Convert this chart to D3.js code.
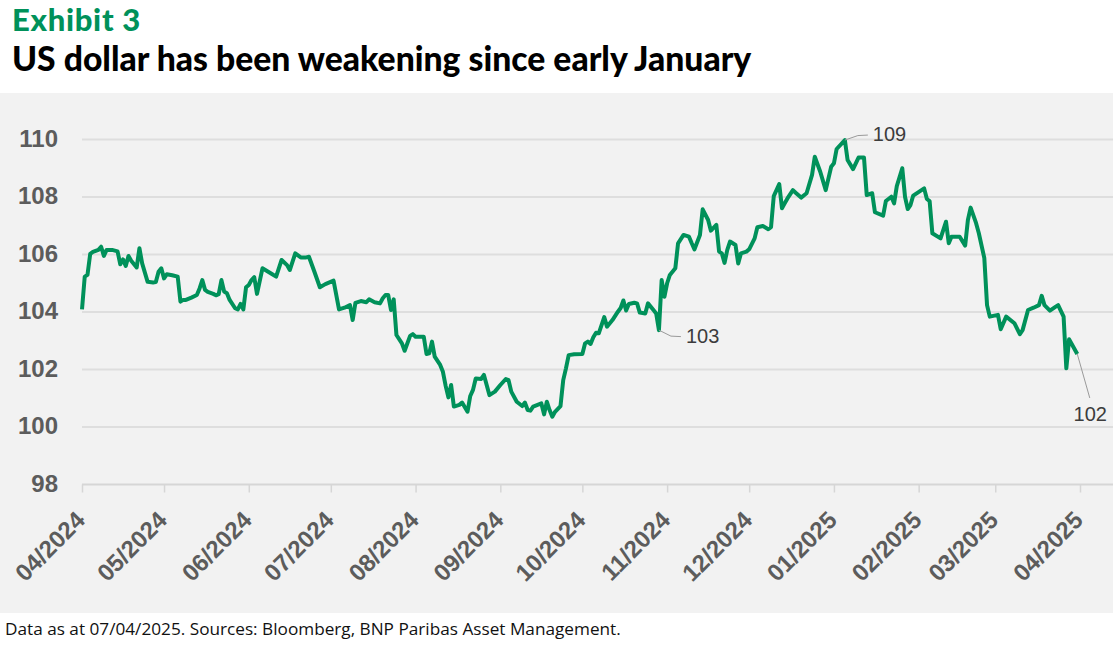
<!DOCTYPE html>
<html lang="en">
<head>
<meta charset="UTF-8">
<title>US dollar</title>
<style>
  body { margin: 0; background: #fff; }
  svg { display: block; }
</style>
</head>
<body>
<script src="https://cdnjs.cloudflare.com/ajax/libs/d3/7.8.5/d3.min.js"></script>
<script>
'use strict';

// DXY
const dates = [
  "2024-04-01","2024-04-02","2024-04-03","2024-04-04","2024-04-05","2024-04-07","2024-04-08","2024-04-09","2024-04-10","2024-04-12",
  "2024-04-14","2024-04-15","2024-04-16","2024-04-17","2024-04-18","2024-04-19","2024-04-21","2024-04-22","2024-04-23","2024-04-25",
  "2024-04-27","2024-04-28","2024-04-29","2024-04-30","2024-05-01","2024-05-02","2024-05-04","2024-05-06","2024-05-07","2024-05-08",
  "2024-05-09","2024-05-11","2024-05-13","2024-05-14","2024-05-15","2024-05-16","2024-05-17","2024-05-19","2024-05-20","2024-05-21",
  "2024-05-22","2024-05-23","2024-05-24","2024-05-25","2024-05-27","2024-05-28","2024-05-29","2024-05-30","2024-05-31","2024-06-01",
  "2024-06-02","2024-06-03","2024-06-04","2024-06-06","2024-06-09","2024-06-11","2024-06-13","2024-06-15","2024-06-16","2024-06-18",
  "2024-06-20","2024-06-22","2024-06-23","2024-06-25","2024-06-27","2024-06-29","2024-07-02","2024-07-04","2024-07-06","2024-07-08",
  "2024-07-09","2024-07-10","2024-07-12","2024-07-14","2024-07-15","2024-07-17","2024-07-19","2024-07-20","2024-07-21","2024-07-22",
  "2024-07-23","2024-07-24","2024-07-25","2024-07-27","2024-07-28","2024-07-30","2024-07-31","2024-08-01","2024-08-04","2024-08-05",
  "2024-08-06","2024-08-07","2024-08-08","2024-08-10","2024-08-11","2024-08-12","2024-08-13","2024-08-14","2024-08-15","2024-08-17",
  "2024-08-18","2024-08-20","2024-08-21","2024-08-22","2024-08-23","2024-08-25","2024-08-26","2024-08-28","2024-08-30","2024-09-01",
  "2024-09-03","2024-09-04","2024-09-05","2024-09-07","2024-09-09","2024-09-10","2024-09-11","2024-09-12","2024-09-13","2024-09-16",
  "2024-09-17","2024-09-18","2024-09-19","2024-09-20","2024-09-21","2024-09-23","2024-09-24","2024-09-25","2024-09-26","2024-09-28",
  "2024-10-01","2024-10-02","2024-10-03","2024-10-04","2024-10-05","2024-10-06","2024-10-07","2024-10-09","2024-10-10","2024-10-12",
  "2024-10-14","2024-10-15","2024-10-16","2024-10-17","2024-10-18","2024-10-20","2024-10-21","2024-10-22","2024-10-24","2024-10-25",
  "2024-10-27","2024-10-28","2024-10-29","2024-10-30","2024-10-31","2024-11-01","2024-11-02","2024-11-04","2024-11-05","2024-11-07",
  "2024-11-09","2024-11-10","2024-11-11","2024-11-13","2024-11-14","2024-11-16","2024-11-17","2024-11-19","2024-11-20","2024-11-21",
  "2024-11-22","2024-11-23","2024-11-24","2024-11-26","2024-11-27","2024-11-28","2024-11-30","2024-12-01","2024-12-03","2024-12-04",
  "2024-12-06","2024-12-08","2024-12-09","2024-12-10","2024-12-12","2024-12-13","2024-12-14","2024-12-15","2024-12-17","2024-12-18",
  "2024-12-20","2024-12-22","2024-12-24","2024-12-25","2024-12-27","2024-12-29","2024-12-31","2025-01-01","2025-01-02","2025-01-05",
  "2025-01-06","2025-01-08","2025-01-10","2025-01-12","2025-01-13","2025-01-15","2025-01-16","2025-01-19","2025-01-20","2025-01-22",
  "2025-01-23","2025-01-24","2025-01-26","2025-01-27","2025-01-28","2025-01-29","2025-01-30","2025-02-03","2025-02-04","2025-02-05",
  "2025-02-06","2025-02-09","2025-02-11","2025-02-12","2025-02-13","2025-02-16","2025-02-18","2025-02-19","2025-02-20","2025-02-22",
  "2025-02-23","2025-02-25","2025-02-26","2025-02-27","2025-03-02","2025-03-03","2025-03-05","2025-03-08","2025-03-10","2025-03-11",
  "2025-03-13","2025-03-15","2025-03-17","2025-03-18","2025-03-19","2025-03-21","2025-03-23","2025-03-24","2025-03-26","2025-03-27",
  "2025-03-28","2025-03-31"
];
const dxy = [
  104.09,105.23,105.29,106.02,106.09,106.16,106.27,105.95,106.16,106.16,
  106.11,105.66,105.83,105.60,105.95,105.78,105.55,106.22,105.69,105.05,
  105.03,105.04,105.40,105.52,105.17,105.31,105.28,105.23,104.36,104.42,
  104.42,104.50,104.59,104.82,105.11,104.77,104.70,104.63,104.58,104.62,
  105.11,104.71,104.65,104.42,104.13,104.09,104.28,104.09,104.86,104.94,
  105.11,105.21,104.63,105.52,105.35,105.23,105.81,105.63,105.46,106.04,
  105.90,105.90,105.92,105.40,104.86,104.97,105.09,104.09,104.15,104.24,
  103.72,104.32,104.38,104.34,104.44,104.34,104.30,104.48,104.59,104.59,
  104.07,104.44,103.20,102.91,102.65,103.17,103.23,103.14,103.14,102.54,
  102.56,102.97,102.45,102.16,101.92,101.43,101.03,101.46,100.71,100.77,
  100.85,100.53,101.08,101.29,101.69,101.67,101.81,101.11,101.23,101.46,
  101.67,101.63,101.23,100.88,100.73,100.85,100.59,100.57,100.71,100.82,
  100.44,100.88,100.59,100.36,100.53,100.73,101.63,102.04,102.50,102.53,
  102.54,102.91,102.97,102.89,103.12,103.28,103.26,103.82,103.49,103.72,
  104.01,104.14,104.40,104.05,104.28,104.32,104.30,103.98,103.95,104.30,
  104.07,103.95,103.37,105.11,104.53,105.00,105.29,105.52,106.39,106.68,
  106.62,106.39,106.18,106.68,107.57,107.20,106.83,107.03,106.10,106.04,
  105.71,106.16,106.45,106.33,105.69,106.04,106.10,106.18,106.56,106.95,
  106.99,106.88,106.95,108.03,108.45,107.61,107.78,107.95,108.24,108.15,
  107.98,108.13,108.77,109.40,108.88,108.24,109.05,109.17,109.67,109.98,
  109.29,108.97,109.37,109.37,108.07,108.13,107.47,107.35,107.86,108.01,
  107.78,108.38,109.00,108.01,107.58,107.72,108.05,108.30,107.93,107.86,
  106.74,106.56,107.14,106.39,106.62,106.62,106.31,107.20,107.63,107.09,
  106.74,105.88,104.24,103.84,103.90,103.40,103.84,103.61,103.23,103.37,
  104.07,104.15,104.24,104.56,104.24,104.05,104.18,104.24,103.84,102.04,
  103.05,102.54
];

const yTicks = [98, 100, 102, 104, 106, 108, 110];
const xStart = "2024-04-01", xEnd = "2025-04-01";
const callouts = [
  { date: "2024-10-29", label: "103" },
  { date: "2025-01-05", label: "109" },
  { date: "2025-03-31", label: "102" }
];

const W = 1113, H = 645;
const green = "#00915a";
const parse = d3.timeParse("%Y-%m-%d");
const series = dates.map((d, i) => ({ date: parse(d), value: dxy[i] }));

const svg = d3.select("body").append("svg")
  .attr("width", W)
  .attr("height", H);

// titles
svg.append("text")
  .attr("x", 12).attr("y", 31)
  .style("font-family", "Lato, 'DejaVu Sans', sans-serif")
  .style("font-weight", 900)
  .style("font-size", "31px")
  .style("letter-spacing", "0.7px")
  .style("fill", green)
  .text("Exhibit 3");

svg.append("text")
  .attr("x", 12).attr("y", 71)
  .style("font-family", "Lato, 'DejaVu Sans', sans-serif")
  .style("font-weight", 900)
  .style("font-size", "33.7px")
  .style("fill", "#000")
  .text("US dollar has been weakening since early January");

// grey panel
svg.append("rect")
  .attr("x", 0).attr("y", 93)
  .attr("width", W).attr("height", 520)
  .style("fill", "#f2f2f2");

const x = d3.scaleTime()
  .domain([parse(xStart), parse(xEnd)])
  .range([82, 1080]);

const y = d3.scaleLinear()
  .domain([98, 110])
  .range([484.5, 139.5]);

// gridlines
svg.append("g")
  .selectAll("line")
  .data(yTicks.slice(1))
  .join("line")
    .attr("x1", 82).attr("x2", W)
    .attr("y1", d => y(d)).attr("y2", d => y(d))
    .style("stroke", "#dedede")
    .style("stroke-width", 2);

// y axis labels
const yAxis = svg.append("g")
  .attr("transform", "translate(58,0)")
  .call(d3.axisLeft(y).tickValues(yTicks).tickSize(0).tickPadding(0));
yAxis.select(".domain").remove();
yAxis.selectAll("text")
  .attr("dy", "0.28em")
  .style("font-family", "'Liberation Sans', Arial, sans-serif")
  .style("font-weight", "bold")
  .style("font-size", "24px")
  .style("fill", "#5c5c5c");

// x axis
const months = d3.timeMonth.range(parse(xStart), d3.timeDay.offset(parse(xEnd), 1));
const xAxis = svg.append("g")
  .attr("transform", `translate(0,${y(98)})`)
  .call(d3.axisBottom(x).tickValues(months).tickFormat(d3.timeFormat("%m/%Y"))
    .tickSizeOuter(0).tickSizeInner(8));
xAxis.select(".domain")
  .attr("d", `M82,0H${W}`)
  .style("stroke", "#d6d6d6")
  .style("stroke-width", 2);
xAxis.selectAll(".tick line")
  .style("stroke", "#d6d6d6")
  .style("stroke-width", 1.5);
xAxis.selectAll(".tick text")
  .attr("y", 0).attr("dy", 0)
  .attr("transform", "translate(4,37) rotate(-45)")
  .style("text-anchor", "end")
  .style("font-family", "'Liberation Sans', Arial, sans-serif")
  .style("font-weight", "bold")
  .style("font-size", "24px")
  .style("fill", "#5c5c5c");

// the line
svg.append("path")
  .datum(series)
  .attr("d", d3.line().x(d => x(d.date)).y(d => y(d.value)))
  .style("fill", "none")
  .style("stroke", green)
  .style("stroke-width", 4)
  .style("stroke-linejoin", "round");

// callouts
const leader = {
  "103": { pts: [[12, 6], [22, 6.5]], tx: 27, ty: 13, anchor: "start" },
  "109": { pts: [[13, -4.5], [23, -5]], tx: 28, ty: 1, anchor: "start" },
  "102": { pts: [[12.5, 44]], tx: 13, ty: 67, anchor: "middle" }
};
callouts.forEach(c => {
  const p = series.find(d => +d.date === +parse(c.date));
  const px = x(p.date), py = y(p.value);
  const L = leader[c.label];
  svg.append("path")
    .attr("d", d3.line()([[px, py]].concat(L.pts.map(q => [px + q[0], py + q[1]]))))
    .style("fill", "none")
    .style("stroke", "#9a9a9a")
    .style("stroke-width", 1);
  svg.append("text")
    .attr("x", px + L.tx).attr("y", py + L.ty)
    .style("text-anchor", L.anchor)
    .style("font-family", "'Liberation Sans', Arial, sans-serif")
    .style("font-size", "20px")
    .style("fill", "#3c3c3c")
    .text(c.label);
});

// footnote
svg.append("text")
  .attr("x", 5).attr("y", 635)
  .style("font-family", "'Open Sans', 'DejaVu Sans', sans-serif")
  .style("font-size", "17.2px")
  .style("fill", "#111")
  .text("Data as at 07/04/2025. Sources: Bloomberg, BNP Paribas Asset Management.");
</script>
</body>
</html>
